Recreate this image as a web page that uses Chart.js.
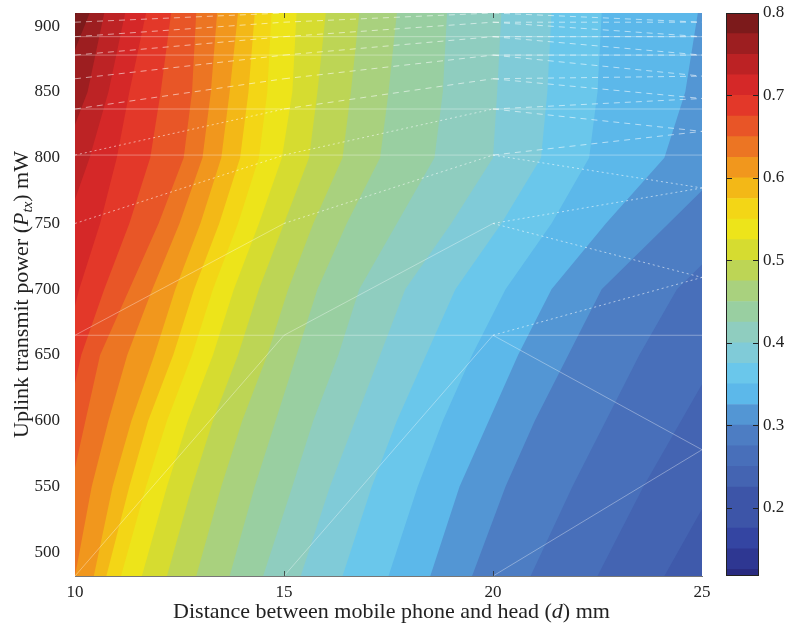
<!DOCTYPE html>
<html>
<head>
<meta charset="utf-8">
<script src="https://cdn.jsdelivr.net/npm/chart.js@4.4.1/dist/chart.umd.min.js"></script>
<style>
  html, body { margin: 0; padding: 0; background: #fff; }
  #wrap { position: relative; width: 790px; height: 625px; }
  #contour { position: absolute; left: 0; top: 0; }
  #colorbar { position: absolute; left: 690px; top: 0; }
</style>
</head>
<body>
<div id="wrap">
  <canvas id="contour" width="790" height="625"></canvas>
  <canvas id="colorbar" width="100" height="625"></canvas>
</div>
<script>
// Puissances (mW) auxquelles la position des isolignes a été lue
const powerLevels = [482, 550, 600, 650, 700, 750, 800, 850, 910];

// Niveaux des isolignes
const contourLevels = [0.200, 0.225, 0.250, 0.275, 0.300, 0.325, 0.350, 0.375, 0.400, 0.425,
  0.450, 0.475, 0.500, 0.525, 0.550, 0.575, 0.600, 0.625, 0.650, 0.675, 0.700, 0.725, 0.750, 0.775, 0.800];

// Distance (mm) de chaque isoligne pour chaque puissance (une ligne par niveau)
const isoDistance = [
  [25.7, 27.0, 28.5, 30.0, 32.0, 34.0, 36.0, 37.0, 38.0],
  [24.1, 25.3, 26.5, 27.7, 29.0, 31.0, 33.0, 34.0, 35.0],
  [22.5, 23.6, 24.5, 25.4, 26.5, 28.0, 30.0, 31.0, 32.0],
  [20.9, 21.9, 22.7, 23.5, 24.4, 26.0, 27.8, 28.5, 29.0],
  [19.5, 20.3, 21.0, 21.8, 22.6, 24.2, 25.8, 26.4, 27.0],
  [18.5, 19.2, 19.9, 20.6, 21.4, 22.7, 24.1, 24.6, 24.9],
  [17.5, 18.2, 18.8, 19.5, 20.3, 21.4, 22.3, 22.5, 22.6],
  [16.4, 17.1, 17.7, 18.4, 19.1, 20.2, 21.15, 21.3, 21.4],
  [15.4, 16.1, 16.7, 17.3, 17.9, 19.0, 20.0, 20.1, 20.2],
  [14.5, 15.2, 15.7, 16.3, 16.8, 17.7, 18.6, 18.8, 18.9],
  [13.7, 14.3, 14.8, 15.3, 15.8, 16.5, 17.3, 17.5, 17.7],
  [12.9, 13.5, 14.0, 14.6, 15.1, 15.7, 16.4, 16.6, 16.8],
  [12.2, 12.8, 13.3, 13.9, 14.4, 15.0, 15.6, 15.8, 16.0],
  [11.6, 12.2, 12.7, 13.3, 13.8, 14.4, 14.95, 15.2, 15.3],
  [11.1, 11.7, 12.2, 12.8, 13.3, 13.9, 14.4, 14.6, 14.7],
  [10.75, 11.3, 11.75, 12.35, 12.85, 13.45, 13.95, 14.15, 14.3],
  [10.45, 10.9, 11.35, 11.9, 12.4, 13.0, 13.5, 13.7, 13.9],
  [10.0, 10.4, 10.8, 11.25, 11.85, 12.5, 13.05, 13.25, 13.4],
  [9.6, 9.9, 10.25, 10.6, 11.3, 12.0, 12.6, 12.8, 12.9],
  [8.8, 9.3, 9.8, 10.15, 10.7, 11.3, 11.8, 12.05, 12.3],
  [8.0, 8.6, 9.2, 9.7, 10.1, 10.6, 11.0, 11.3, 11.7],
  [7.2, 7.8, 8.3, 8.8, 9.3, 9.8, 10.35, 10.8, 11.2],
  [6.5, 7.0, 7.5, 8.0, 8.5, 9.0, 9.7, 10.3, 10.7],
  [5.7, 6.2, 6.7, 7.2, 7.7, 8.2, 8.9, 9.6, 10.35],
  [5.0, 5.5, 6.0, 6.5, 7.0, 7.5, 8.2, 8.8, 10.05]
];

// Noeuds du maillage (lignes blanches visibles sur la figure)
const meshDistance = [10, 15, 20, 25];
const meshPowerLeft = [482, 665, 750, 802, 837, 860, 878, 892, 903, 910];
const meshPowerRight = [578, 709, 777, 820, 845, 862, 878, 892, 903];
const meshHorizontal = [665, 802, 837, 878, 892];

const distanceTicks = [10, 15, 20, 25];
const powerTicks = [500, 550, 600, 650, 700, 750, 800, 850, 900];
const colorbarTicks = [0.2, 0.3, 0.4, 0.5, 0.6, 0.7, 0.8];
const colorbarLowLevels = [0.117, 0.125, 0.150, 0.175];

// Palette de couleurs (valeur -> couleur)
const cmapValues = [0.117, 0.15, 0.20, 0.25, 0.28, 0.30, 0.32, 0.345, 0.365, 0.39, 0.41, 0.44,
  0.47, 0.50, 0.53, 0.55, 0.58, 0.61, 0.64, 0.67, 0.70, 0.73, 0.76, 0.80];
const cmapColors = ['#28287c', '#3140a0', '#3d55a8', '#4669b5', '#4b78c0', '#4f86c9', '#569fdb',
  '#5ec2f0', '#6cc8ea', '#82cbd6', '#8ecdc2', '#9acf9e', '#aed274', '#c8d73e', '#eae41c', '#f3e516',
  '#f3c216', '#f19a1c', '#ec7224', '#e64c28', '#e02a29', '#c62426', '#a01e20', '#6b1819'];

const serif = "'Liberation Serif', 'Times New Roman', serif";
const textColor = '#222';

function hexToRgb(h) {
  return [parseInt(h.slice(1, 3), 16), parseInt(h.slice(3, 5), 16), parseInt(h.slice(5, 7), 16)];
}

function colorAt(v) {
  if (v <= cmapValues[0]) return cmapColors[0];
  for (let i = 1; i < cmapValues.length; i++) {
    if (v <= cmapValues[i]) {
      const t = (v - cmapValues[i - 1]) / (cmapValues[i] - cmapValues[i - 1]);
      const a = hexToRgb(cmapColors[i - 1]);
      const b = hexToRgb(cmapColors[i]);
      const c = a.map((x, k) => Math.round(x + (b[k] - x) * t));
      return `rgb(${c[0]},${c[1]},${c[2]})`;
    }
  }
  return cmapColors[cmapColors.length - 1];
}

// Texte avec styles mélangés (italique, indice)
function drawRich(ctx, parts, x, y, angle) {
  ctx.save();
  ctx.translate(x, y);
  ctx.rotate(angle);
  ctx.fillStyle = textColor;
  ctx.textBaseline = 'alphabetic';
  let total = 0;
  parts.forEach(p => { ctx.font = p.font; p.w = ctx.measureText(p.text).width; total += p.w; });
  let cx = -total / 2;
  parts.forEach(p => {
    ctx.font = p.font;
    ctx.fillText(p.text, cx, p.dy || 0);
    cx += p.w;
  });
  ctx.restore();
}

const backgroundPlugin = {
  id: 'contourBackground',
  beforeDatasetsDraw(chart) {
    const {ctx, chartArea: a} = chart;
    ctx.save();
    ctx.fillStyle = colorAt(0.19);
    ctx.fillRect(a.left, a.top, a.right - a.left, a.bottom - a.top);
    ctx.restore();
  }
};

const axisDecorPlugin = {
  id: 'axisDecor',
  afterDraw(chart) {
    const {ctx, chartArea: a, scales} = chart;
    ctx.save();
    ctx.strokeStyle = 'rgba(40,40,40,0.75)';
    ctx.lineWidth = 1;
    ctx.beginPath();
    distanceTicks.slice(1, -1).forEach(v => {
      const px = Math.round(scales.x.getPixelForValue(v)) + 0.5;
      ctx.moveTo(px, a.top); ctx.lineTo(px, a.top + 5);
      ctx.moveTo(px, a.bottom); ctx.lineTo(px, a.bottom - 5);
    });
    ctx.stroke();
    ctx.restore();

    const f = 22;
    drawRich(ctx, [
      {text: 'Distance between mobile phone and head (', font: `${f}px ${serif}`},
      {text: 'd', font: `italic ${f}px ${serif}`},
      {text: ') mm', font: `${f}px ${serif}`}
    ], (a.left + a.right) / 2 + 3, 618, 0);

    drawRich(ctx, [
      {text: 'Uplink transmit power (', font: `${f}px ${serif}`},
      {text: 'P', font: `italic ${f}px ${serif}`},
      {text: 'tx', font: `italic ${Math.round(f * 0.7)}px ${serif}`, dy: 4},
      {text: ') mW', font: `${f}px ${serif}`}
    ], 28, (a.top + a.bottom) / 2, -Math.PI / 2);
  }
};

// Segments du maillage : diagonales montantes à gauche, zigzag entre 20 et 25 mm
function buildMeshLines() {
  const lines = [];
  const styleFor = k => (k < 2 ? [] : (k < 4 ? [2, 3] : [6, 5]));
  const alphaFor = k => (k < 2 ? 0.35 : 0.55);
  for (let k = 0; k < meshPowerLeft.length - 1; k++) {
    lines.push({pts: [[meshDistance[0], meshPowerLeft[k]], [meshDistance[1], meshPowerLeft[k + 1]]], k});
    lines.push({pts: [[meshDistance[1], meshPowerLeft[k]], [meshDistance[2], meshPowerLeft[k + 1]]], k});
  }
  meshPowerRight.forEach((p, k) => {
    lines.push({pts: [[meshDistance[2], meshPowerLeft[k]], [meshDistance[3], p]], k: k + 1});
    lines.push({pts: [[meshDistance[2], meshPowerLeft[k + 1]], [meshDistance[3], p]], k: k + 1});
  });
  meshHorizontal.forEach(p => {
    lines.push({pts: [[meshDistance[0], p], [meshDistance[3], p]], k: 0});
  });
  return lines.map(l => ({
    data: l.pts.map(q => ({x: q[0], y: q[1]})),
    showLine: true,
    fill: false,
    borderColor: `rgba(255,255,255,${alphaFor(l.k)})`,
    borderWidth: 1,
    borderDash: styleFor(l.k),
    pointRadius: 0,
    tension: 0
  }));
}

function createContourChart() {
  const ctx = document.getElementById('contour');

  // Chaque niveau remplit la zone à gauche de son isoligne ; du plus bas au plus haut
  const bands = contourLevels.map((level, i) => {
    const points = powerLevels.map((p, j) => ({x: isoDistance[i][j], y: p}));
    points.push({x: 0, y: powerLevels[powerLevels.length - 1]}, {x: 0, y: powerLevels[0]});
    return {
      data: points,
      showLine: true,
      fill: 'shape',
      backgroundColor: colorAt(level + 0.0125),
      borderColor: 'rgba(0,0,0,0)',
      borderWidth: 0,
      pointRadius: 0,
      tension: 0
    };
  }).reverse();

  // les lignes du maillage en premier pour être dessinées par-dessus
  const datasets = buildMeshLines().concat(bands);

  new Chart(ctx, {
    type: 'scatter',
    data: {datasets},
    options: {
      responsive: false,
      animation: false,
      devicePixelRatio: 1,
      layout: {padding: {top: 13, right: 88, left: 0, bottom: 0}},
      plugins: {legend: {display: false}, tooltip: {enabled: false}},
      scales: {
        x: {
          type: 'linear', min: 10, max: 25,
          afterBuildTicks: s => { s.ticks = distanceTicks.map(v => ({value: v})); },
          afterFit: s => { s.height = 49; s.paddingLeft = 0; s.paddingRight = 0; },
          grid: {display: false, drawTicks: false},
          border: {display: true, color: '#777', width: 1},
          ticks: {font: {family: serif, size: 17}, color: textColor, padding: 6, maxRotation: 0}
        },
        y: {
          type: 'linear', min: 482, max: 910,
          afterBuildTicks: s => { s.ticks = powerTicks.map(v => ({value: v})); },
          afterFit: s => { s.width = 75; s.paddingTop = 0; s.paddingBottom = 0; },
          grid: {display: false, drawTicks: false},
          border: {display: true, color: '#777', width: 1},
          ticks: {font: {family: serif, size: 17}, color: textColor, padding: 15}
        }
      }
    },
    plugins: [backgroundPlugin, axisDecorPlugin]
  });
}

const colorbarFramePlugin = {
  id: 'colorbarFrame',
  afterDatasetsDraw(chart) {
    const {ctx, chartArea: a, scales} = chart;
    ctx.save();
    ctx.strokeStyle = '#222';
    ctx.lineWidth = 1;
    ctx.strokeRect(Math.round(a.left) + 0.5, Math.round(a.top) + 0.5,
      Math.round(a.right - a.left) - 1, Math.round(a.bottom - a.top) - 1);
    ctx.beginPath();
    colorbarTicks.slice(0, -1).forEach(v => {
      const py = Math.round(scales.y.getPixelForValue(v)) + 0.5;
      ctx.moveTo(a.left, py); ctx.lineTo(a.left + 6, py);
      ctx.moveTo(a.right, py); ctx.lineTo(a.right - 6, py);
    });
    ctx.stroke();
    ctx.restore();
  }
};

function createColorBar() {
  const ctx = document.getElementById('colorbar');
  const edges = colorbarLowLevels.concat(contourLevels.slice(1));
  const datasets = [];
  for (let i = 0; i < edges.length - 1; i++) {
    datasets.push({
      data: [[edges[i], edges[i + 1]]],
      backgroundColor: colorAt((edges[i] + edges[i + 1]) / 2),
      borderWidth: 0,
      barPercentage: 1,
      categoryPercentage: 1,
      grouped: false
    });
  }

  new Chart(ctx, {
    type: 'bar',
    data: {labels: ['c'], datasets},
    options: {
      responsive: false,
      animation: false,
      devicePixelRatio: 1,
      layout: {padding: {top: 13, left: 36, right: 0, bottom: 49}},
      plugins: {legend: {display: false}, tooltip: {enabled: false}},
      scales: {
        x: {display: false},
        y: {
          position: 'right', min: 0.117, max: 0.8,
          afterBuildTicks: s => { s.ticks = colorbarTicks.map(v => ({value: v})); },
          afterFit: s => { s.width = 31; s.paddingTop = 0; s.paddingBottom = 0; },
          grid: {display: false, drawTicks: false},
          border: {display: false},
          ticks: {font: {family: serif, size: 17}, color: textColor, padding: 4,
            callback: v => v.toFixed(1)}
        }
      }
    },
    plugins: [colorbarFramePlugin]
  });
}

createContourChart();
createColorBar();
</script>
</body>
</html>
